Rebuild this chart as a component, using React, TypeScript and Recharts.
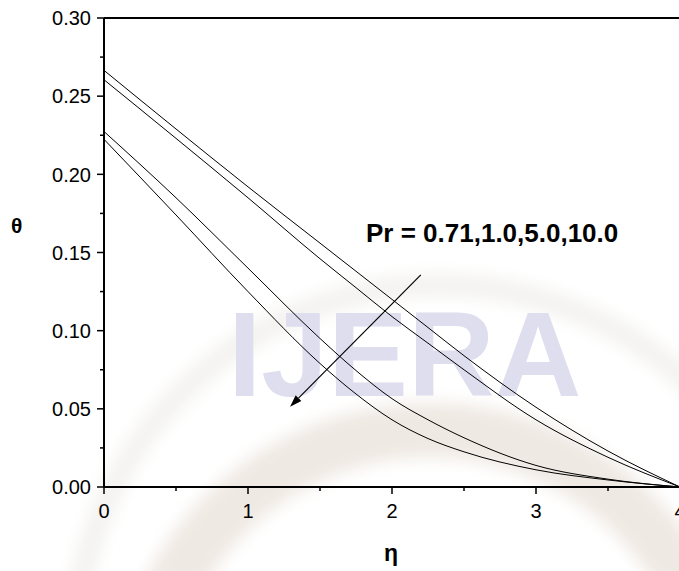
import { LineChart, Line, XAxis, YAxis, ReferenceLine } from 'recharts';

const eta = [0, 0.5, 1, 1.5, 1.75, 2, 2.25, 2.5, 3, 3.5, 4];
const pr071 = [0.2665, 0.229, 0.192, 0.156, 0.138, 0.12, 0.102, 0.084, 0.051, 0.023, 0];
const pr10 = [0.2605, 0.223, 0.185, 0.146, 0.1275, 0.109, 0.092, 0.075, 0.043, 0.019, 0];
const pr50 = [0.2274, 0.185, 0.14, 0.095, 0.0745, 0.0565, 0.043, 0.0315, 0.0138, 0.005, 0];
const pr100 = [0.2224, 0.174, 0.125, 0.079, 0.0595, 0.043, 0.031, 0.0225, 0.011, 0.0045, 0];

const xTicks = [0, 0.5, 1, 1.5, 2, 2.5, 3, 3.5, 4];
const yTicks = [0, 0.025, 0.05, 0.075, 0.1, 0.125, 0.15, 0.175, 0.2, 0.225, 0.25, 0.275, 0.3];

const arrowFrom = { x: 2.2, y: 0.1357 };
const arrowTo = { x: 1.292, y: 0.0514 };

const data = eta.map((e, i) => ({
  eta: e,
  a: pr071[i],
  b: pr10[i],
  c: pr50[i],
  d: pr100[i],
}));

const font = '"Liberation Sans", Arial, sans-serif';

function YTick({ x, y, payload, index }: any) {
  const major = index % 2 === 0;
  return (
    <g>
      <line x1={x - (major ? 7 : 4)} x2={x} y1={y} y2={y} stroke="#000" strokeWidth={1.5} />
      {major && (
        <text x={x - 13} y={y} dy="0.36em" textAnchor="end" fontSize={20} fontFamily={font} fill="#000">
          {payload.value.toFixed(2)}
        </text>
      )}
    </g>
  );
}

function XTick({ x, y, payload, index }: any) {
  const major = index % 2 === 0;
  return (
    <g>
      <line x1={x} x2={x} y1={y} y2={y + (major ? 7 : 4)} stroke="#000" strokeWidth={1.5} />
      {major && (
        <text x={x} y={y + 31} textAnchor="middle" fontSize={20} fontFamily={font} fill="#000">
          {String(payload.value)}
        </text>
      )}
    </g>
  );
}

function Arrow(props: any) {
  const { x1, y1, x2, y2 } = props;
  const ang = Math.atan2(y2 - y1, x2 - x1);
  const len = 12;
  const w = 4;
  const bx = x2 - len * Math.cos(ang);
  const by = y2 - len * Math.sin(ang);
  const px = -Math.sin(ang) * w;
  const py = Math.cos(ang) * w;
  return (
    <g>
      <line x1={x1} y1={y1} x2={bx} y2={by} stroke="#000" strokeWidth={1.2} />
      <polygon points={`${x2},${y2} ${bx + px},${by + py} ${bx - px},${by - py}`} fill="#000" />
    </g>
  );
}

export default function App() {
  return (
    <div style={{ position: 'fixed', left: 0, top: 0, width: 679, height: 571, overflow: 'hidden', background: '#fff', fontFamily: font }}>
      {/* faint watermark emblem behind the plot */}
      <svg width={679} height={571} style={{ position: 'absolute', left: 0, top: 0 }}>
        <defs>
          <filter id="blur">
            <feGaussianBlur stdDeviation="8" />
          </filter>
        </defs>
        <g filter="url(#blur)" fill="none">
          <circle cx={440} cy={650} r={365} stroke="#f3f2ef" strokeWidth={22} />
          <circle cx={430} cy={720} r={290} stroke="#efe9e3" strokeWidth={55} />
        </g>
      </svg>
      <div
        style={{
          position: 'absolute',
          left: 228,
          top: 294,
          fontSize: 120,
          fontWeight: 'bold',
          lineHeight: 1,
          color: '#dfdeef',
        }}
      >
        IJERA
      </div>
      <div style={{ position: 'absolute', left: 11, top: 214, fontSize: 21, fontWeight: 'bold', color: '#000' }}>θ</div>
      <div style={{ position: 'absolute', left: 384, top: 540, fontSize: 23, fontWeight: 'bold', color: '#000' }}>η</div>
      <div style={{ position: 'absolute', left: 366, top: 218, fontSize: 26, fontWeight: 'bold', color: '#000', whiteSpace: 'nowrap' }}>
        Pr = 0.71,1.0,5.0,10.0
      </div>
      <div style={{ position: 'absolute', left: 0, top: 0 }}>
        <LineChart width={700} height={571} data={data} margin={{ top: 18, right: 20, bottom: 0, left: 0 }}>
          <XAxis
            type="number"
            dataKey="eta"
            domain={[0, 4]}
            ticks={xTicks}
            height={84}
            tickSize={0}
            tickMargin={0}
            tickLine={false}
            axisLine={{ stroke: '#000', strokeWidth: 2 }}
            tick={<XTick />}
            interval={0}
          />
          <YAxis
            type="number"
            domain={[0, 0.3]}
            ticks={yTicks}
            width={104}
            tickSize={0}
            tickMargin={0}
            tickLine={false}
            axisLine={{ stroke: '#000', strokeWidth: 2 }}
            tick={<YTick />}
            interval={0}
          />
          <ReferenceLine y={0.3} stroke="#000" strokeWidth={2} />
          <Line type="monotone" dataKey="a" stroke="#000" strokeWidth={1} dot={false} isAnimationActive={false} />
          <Line type="monotone" dataKey="b" stroke="#000" strokeWidth={1} dot={false} isAnimationActive={false} />
          <Line type="monotone" dataKey="c" stroke="#000" strokeWidth={1} dot={false} isAnimationActive={false} />
          <Line type="monotone" dataKey="d" stroke="#000" strokeWidth={1} dot={false} isAnimationActive={false} />
          <ReferenceLine segment={[arrowFrom, arrowTo]} shape={<Arrow />} />
        </LineChart>
      </div>
    </div>
  );
}
